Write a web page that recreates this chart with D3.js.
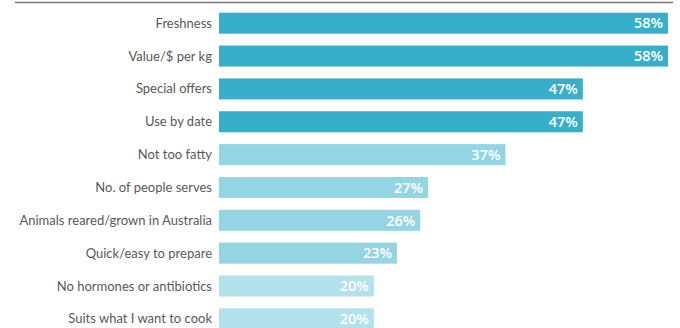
<!DOCTYPE html>
<html lang="en">
<head>
<meta charset="UTF-8">
<title>Purchase drivers</title>
<script src="https://d3js.org/d3.v7.min.js"></script>
<style>
  body { margin: 0; background: #fff; }
  .label { font-family: Lato, sans-serif; font-size: 13px; fill: #595959; }
  .value { font-family: "Open Sans", sans-serif; font-size: 14.5px; font-weight: 600; fill: #fff; }
</style>
</head>
<body>
<script>
// categories, values and colour group for each bar
const categories = ["Freshness", "Value/$ per kg", "Special offers", "Use by date",
  "Not too fatty", "No. of people serves", "Animals reared/grown in Australia",
  "Quick/easy to prepare", "No hormones or antibiotics", "Suits what I want to cook"];
const values = [58, 58, 47, 47, 37, 27, 26, 23, 20, 20];
const groups = [0, 0, 0, 0, 1, 1, 1, 1, 2, 2];
const groupColors = ["#38afc9", "#94d5e3", "#b3e1ec"];

const width = 680, height = 328;

const svg = d3.select("body").append("svg")
  .attr("width", width)
  .attr("height", height);

// x scale: bar start at 219, 58% reaching 668
const x = d3.scaleLinear().domain([0, 58]).range([219, 668]);

const step = 32.85;
const y = d3.scaleBand()
  .domain(categories)
  .range([12.7 - step * 0.18, 12.7 - step * 0.18 + step * 10])
  .paddingInner(0.36)
  .paddingOuter(0.18);

// top rule
svg.append("line")
  .attr("x1", 15).attr("x2", 673)
  .attr("y1", 2.5).attr("y2", 2.5)
  .attr("stroke", "#777")
  .attr("stroke-width", 1.5);

const rows = svg.selectAll(".row")
  .data(categories)
  .enter()
  .append("g")
  .attr("class", "row");

rows.append("rect")
  .attr("x", x(0))
  .attr("y", d => y(d))
  .attr("width", (d, i) => x(values[i]) - x(0))
  .attr("height", y.bandwidth())
  .attr("fill", (d, i) => groupColors[groups[i]]);

rows.append("text")
  .attr("class", "label")
  .attr("x", 212)
  .attr("y", d => y(d) + y.bandwidth() / 2)
  .attr("dy", "0.35em")
  .attr("text-anchor", "end")
  .text(d => d);

rows.append("text")
  .attr("class", "value")
  .attr("x", (d, i) => x(values[i]) - 5)
  .attr("y", d => y(d) + y.bandwidth() / 2)
  .attr("dy", "0.36em")
  .attr("text-anchor", "end")
  .text((d, i) => values[i] + "%");
</script>
</body>
</html>
